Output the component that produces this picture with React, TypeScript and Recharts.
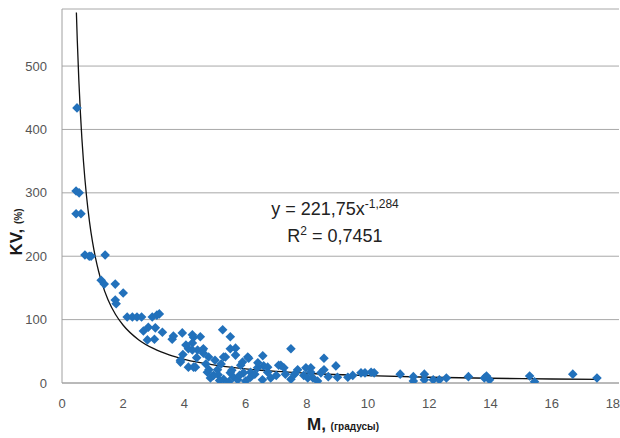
import React from "react"
import {
  ComposedChart,
  Scatter,
  Line,
  XAxis,
  YAxis,
  CartesianGrid,
} from "recharts"

// measured points: M (degrees) vs KV (%)
const pointsM = [
  0.49, 0.46, 0.56, 0.46, 0.62, 0.75, 0.89, 0.95, 1.41,
  1.28, 1.38, 1.74, 2.0, 1.74, 1.77,
  2.13, 2.3, 2.45, 2.6, 2.95, 3.1, 3.18,
  2.66, 2.82, 3.28, 3.02, 2.79, 3.05,
  3.6, 3.64, 3.93, 4.3, 4.26, 4.13, 4.43, 4.62, 3.87, 4.13, 4.36,
  5.25, 5.5, 5.5, 5.67, 5.34, 6.07, 5.0, 4.26, 4.26, 4.59, 4.62, 6.1, 6.56, 3.87, 4.3, 4.8, 5.1, 5.6, 6.16, 6.72,
  7.48, 8.56, 8.95, 6.59, 7.15, 8.13, 8.56, 9.77, 10.1, 8.2, 9.0, 9.34,
  9.9, 10.2, 11.05, 11.48, 11.48, 11.84, 11.84, 12.13, 12.33, 12.56, 13.28, 13.8, 13.97,
  13.87, 15.28, 15.44, 16.69, 17.48,
  4.52, 4.79, 5.28, 5.67, 4.75, 5.08, 5.5, 5.84, 5.93, 6.39, 6.72, 7.08, 7.25, 7.7, 7.97, 8.13, 8.46,
  4.85, 5.28, 5.74, 6.16, 6.82, 7.48, 8.03,
  4.95, 5.15, 5.45, 5.55, 5.8, 6.0, 6.3, 6.55, 7.0, 7.3, 7.9, 8.35, 4.7, 5.2, 5.9, 3.95, 4.05, 4.4, 6.4, 7.6, 8.7, 9.5,
]
const pointsKV = [
  434, 303, 300, 267, 267, 202, 200, 200, 202,
  162, 156, 156, 142, 131, 125,
  104, 104, 104, 104, 104, 107, 109,
  82, 88, 80, 69, 68, 87,
  69, 74, 79, 72, 63, 54, 52, 54, 36, 25, 25,
  84, 73, 54, 44, 41, 41, 36, 76, 52, 52, 47, 39, 43, 33, 25, 21, 13, 9, 17, 17,
  54, 39, 27, 27, 28, 24, 21, 16, 17, 8, 9, 9,
  16, 16, 14, 10, 3, 14, 5, 5, 5, 8, 10, 8, 5,
  11, 11, 2, 14, 8,
  73, 41, 41, 55, 17, 21, 16, 28, 16, 24, 25, 28, 24, 21, 24, 17, 16,
  8, 6, 5, 9, 8, 6, 8,
  12, 4, 2, 20, 12, 3, 14, 5, 12, 14, 12, 3, 30, 30, 33, 45, 60, 40, 32, 14, 10, 12,
]

// power trend line y = 221,75x^-1,284
const trendM = [0.47, 0.5, 0.55, 0.6, 0.65, 0.7, 0.8, 0.9, 1.0, 1.1, 1.2, 1.3, 1.5, 1.75, 2, 2.5, 3, 3.5, 4, 5, 6, 7, 8, 10, 12, 14, 16, 17.5]
const trendKV = [584.6, 540.0, 477.8, 427.3, 385.5, 350.6, 295.3, 253.9, 221.75, 196.2, 175.5, 158.3, 131.8, 108.1, 91.1, 68.4, 54.1, 44.4, 37.4, 28.1, 22.2, 18.2, 15.4, 11.5, 9.1, 7.5, 6.3, 5.6]

const xTicks = [0, 2, 4, 6, 8, 10, 12, 14, 16, 18]
const yTicks = [0, 100, 200, 300, 400, 500]

const points = pointsM.map((m, i) => ({ x: m, y: pointsKV[i] }))
const trend = trendM.map((m, i) => ({ x: m, y: trendKV[i] }))

const BLUE = "#2271bb"
const FONT = "'Liberation Sans', Arial, sans-serif"

const Diamond = (props: any) => {
  const { cx, cy } = props
  if (cx == null || cy == null) return <g />
  const r = 4.8
  return (
    <polygon
      points={`${cx},${cy - r} ${cx + r},${cy} ${cx},${cy + r} ${cx - r},${cy}`}
      fill={BLUE}
    />
  )
}

const XLabel = () => (
  <text x={307} y={430} textAnchor="start" fontFamily={FONT} fontWeight="bold" fill="#1a1a1a">
    <tspan fontSize={17}>M, </tspan>
    <tspan fontSize={10}>(градусы)</tspan>
  </text>
)

const YLabel = () => (
  <text
    x={0}
    y={0}
    transform="translate(22,232) rotate(-90)"
    textAnchor="middle"
    fontFamily={FONT}
    fontWeight="bold"
    fill="#1a1a1a"
  >
    <tspan fontSize={17}>KV, </tspan>
    <tspan fontSize={10}>(%)</tspan>
  </text>
)

export default function App() {
  return (
    <div style={{ position: "absolute", left: 0, top: 0, width: 620, height: 438, background: "#fff" }}>
      <ComposedChart
        width={620}
        height={438}
        margin={{ top: 9, right: 1, bottom: 25, left: 0 }}
      >
        <CartesianGrid vertical={false} stroke="#a8a8a8" strokeWidth={1} />
        <XAxis
          type="number"
          dataKey="x"
          domain={[0, 18.2]}
          ticks={xTicks}
          allowDataOverflow
          height={30}
          tickLine={false}
          axisLine={{ stroke: "#a0a0a0" }}
          tick={{ fill: "#555", fontSize: 13, fontFamily: FONT }}
          tickMargin={10}
          label={<XLabel />}
        />
        <YAxis
          type="number"
          domain={[0, 590]}
          ticks={yTicks}
          allowDataOverflow
          width={62}
          tickLine={false}
          axisLine={{ stroke: "#a0a0a0" }}
          tick={{ fill: "#555", fontSize: 13, fontFamily: FONT }}
          tickMargin={9}
          label={<YLabel />}
        />
        <Scatter
          data={points}
          dataKey="y"
          shape={Diamond}
          isAnimationActive={false}
        />
        <Line
          data={trend}
          dataKey="y"
          type="monotone"
          stroke="#111"
          strokeWidth={1.3}
          dot={false}
          activeDot={false}
          isAnimationActive={false}
        />
      </ComposedChart>
      <div
        style={{
          position: "absolute",
          left: 235,
          top: 196,
          width: 200,
          textAlign: "center",
          fontFamily: FONT,
          fontSize: 18,
          color: "#222",
          lineHeight: "27px",
        }}
      >
        <div>
          y = 221,75x<sup style={{ fontSize: 12, verticalAlign: "7px", lineHeight: 0 }}>-1,284</sup>
        </div>
        <div>
          R<sup style={{ fontSize: 12, verticalAlign: "7px", lineHeight: 0 }}>2</sup> = 0,7451
        </div>
      </div>
    </div>
  )
}
